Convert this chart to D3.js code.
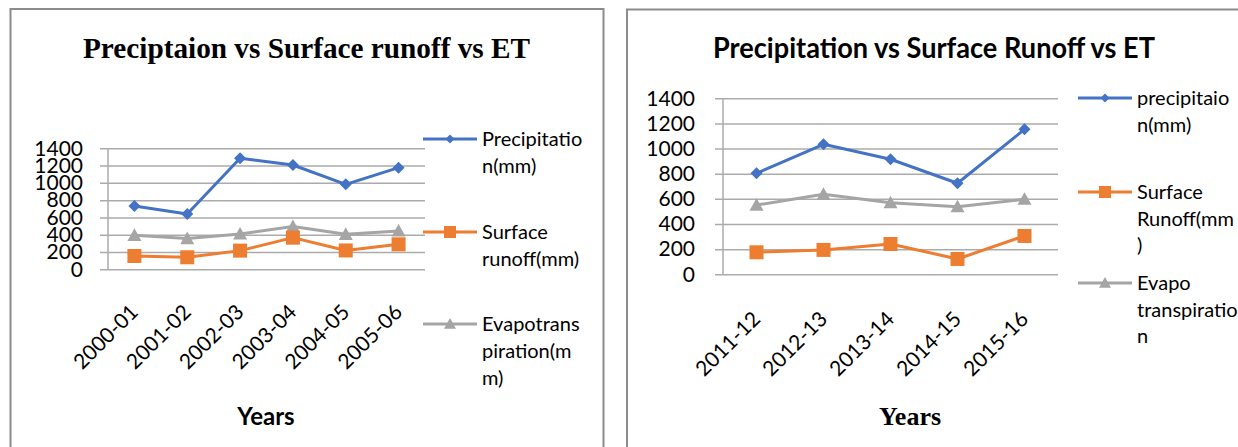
<!DOCTYPE html>
<html>
<head>
<meta charset="utf-8">
<script src="https://cdn.jsdelivr.net/npm/d3@7"></script>
<style>
  html, body { margin: 0; padding: 0; background: #fff; }
  svg { display: block; }
</style>
</head>
<body>
<svg id="chart" width="1238" height="447"></svg>
<script>
// ---------- DATA ----------
const yTicks = [0, 200, 400, 600, 800, 1000, 1200, 1400];

const leftCategories = ["2000-01", "2001-02", "2002-03", "2003-04", "2004-05", "2005-06"];
const leftPrecipitation = [733, 640, 1284, 1207, 983, 1176];
const leftSurfaceRunoff = [154, 139, 216, 366, 218, 289];
const leftEvapotranspiration = [393, 355, 409, 494, 405, 444];
const leftSeriesNames = [["Precipitatio", "n(mm)"], ["Surface", "runoff(mm)"], ["Evapotrans", "piration(m", "m)"]];
const leftTitle = "Preciptaion vs Surface runoff vs ET";

const rightCategories = ["2011-12", "2012-13", "2013-14", "2014-15", "2015-16"];
const rightPrecipitation = [803, 1034, 915, 724, 1153];
const rightSurfaceRunoff = [175, 194, 241, 122, 305];
const rightEvapotranspiration = [551, 636, 570, 538, 597];
const rightSeriesNames = [["precipitaio", "n(mm)"], ["Surface", "Runoff(mm", ")"], ["Evapo", "transpiratio", "n"]];
const rightTitle = "Precipitation vs Surface Runoff vs ET";

const xAxisTitle = "Years";

// ---------- STYLE ----------
const colors = ["#4472C4", "#ED7D31", "#A5A5A5"];
const markers = ["diamond", "square", "triangle"];
const gridColor = "#ABABAB";
const sansFont = "Lato, 'Open Sans', sans-serif";
const serifFont = "'Liberation Serif', 'Times New Roman', serif";

const svg = d3.select("#chart");

function markerPath(type, size) {
  const h = size / 2;
  if (type === "diamond") return `M0,${-h}L${h},0L0,${h}L${-h},0Z`;
  if (type === "square") return `M${-h},${-h}H${h}V${h}H${-h}Z`;
  return `M0,${-h}L${h},${h * 0.8}L${-h},${h * 0.8}Z`;
}

function drawChart(cfg) {
  const g = svg.append("g");

  // panel border
  g.append("path")
    .attr("d", `M${cfg.panel[0]},447V${cfg.panel[1]}H${cfg.panel[2]}V447`)
    .attr("fill", "none").attr("stroke", "#8C8C8C").attr("stroke-width", 2);

  // title
  g.append("text")
    .attr("x", cfg.title.x).attr("y", cfg.title.y)
    .attr("text-anchor", "middle")
    .attr("font-family", cfg.title.font).attr("font-weight", "bold")
    .attr("font-size", cfg.title.size)
    .attr("textLength", cfg.title.len).attr("lengthAdjust", "spacingAndGlyphs")
    .text(cfg.title.text);

  const x = d3.scaleBand().domain(cfg.categories).range([cfg.left, cfg.right]).padding(0);
  const y = d3.scaleLinear().domain([0, 1400]).range([cfg.bottom, cfg.top]);
  const cx = d => x(d) + x.bandwidth() / 2;

  // gridlines + y labels
  const yAxis = d3.axisLeft(y).tickValues(yTicks)
    .tickSize(-(cfg.right - cfg.left + 8)).tickPadding(cfg.yPad).tickFormat(d3.format("d"));
  const ya = g.append("g").attr("transform", `translate(${cfg.left - 8},0)`).call(yAxis);
  ya.select(".domain").remove();
  ya.selectAll(".tick line").attr("stroke", gridColor).attr("stroke-width", 1.5);
  ya.selectAll(".tick text")
    .attr("font-family", sansFont).attr("font-size", cfg.yFont).attr("fill", "#000");

  // vertical axis line
  g.append("line")
    .attr("x1", cfg.left).attr("x2", cfg.left)
    .attr("y1", y(1400)).attr("y2", y(0))
    .attr("stroke", gridColor).attr("stroke-width", 1.5);

  // x labels (rotated)
  g.append("g").selectAll("text").data(cfg.categories).join("text")
    .attr("transform", d => `translate(${cx(d) + cfg.xLab.dx},${cfg.bottom + cfg.xLab.dy}) rotate(-45)`)
    .attr("text-anchor", "end")
    .attr("font-family", sansFont).attr("font-size", cfg.xLab.size)
    .text(d => d);

  // x axis title
  g.append("text")
    .attr("x", cfg.xTitle.x).attr("y", cfg.xTitle.y)
    .attr("text-anchor", "middle")
    .attr("font-family", cfg.xTitle.font).attr("font-weight", "bold")
    .attr("font-size", cfg.xTitle.size)
    .text(xAxisTitle);

  // series
  const line = d3.line().x(d => cx(d.c)).y(d => y(d.v));
  const order = [2, 1, 0];
  order.forEach(i => {
    const pts = cfg.categories.map((c, j) => ({ c, v: cfg.series[i][j] }));
    g.append("path").datum(pts)
      .attr("d", line).attr("fill", "none")
      .attr("stroke", colors[i]).attr("stroke-width", 3).attr("stroke-linejoin", "round");
    g.append("g").selectAll("path").data(pts).join("path")
      .attr("transform", d => `translate(${cx(d.c)},${y(d.v)})`)
      .attr("d", markerPath(markers[i], [12, 14, 14][i]))
      .attr("fill", colors[i]);
  });

  // legend
  cfg.names.forEach((lines, i) => {
    const ly = cfg.legend.ys[i];
    const lg = g.append("g");
    lg.append("line")
      .attr("x1", cfg.legend.x0).attr("x2", cfg.legend.x0 + 54)
      .attr("y1", ly).attr("y2", ly)
      .attr("stroke", colors[i]).attr("stroke-width", 3);
    lg.append("path")
      .attr("transform", `translate(${cfg.legend.x0 + 27},${ly})`)
      .attr("d", markerPath(markers[i], [9, 12, 12][i]))
      .attr("fill", colors[i]);
    lines.forEach((t, k) => {
      lg.append("text")
        .attr("x", cfg.legend.x0 + 59).attr("y", ly + k * cfg.legend.lh)
        .attr("dy", "0.35em")
        .attr("font-family", sansFont).attr("font-size", cfg.legend.size)
        .text(t);
    });
  });
}

drawChart({
  panel: [10.5, 9, 603.5],
  title: { x: 306.5, y: 57.5, text: leftTitle, font: serifFont, size: 29, len: 447 },
  categories: leftCategories,
  series: [leftPrecipitation, leftSurfaceRunoff, leftEvapotranspiration],
  names: leftSeriesNames,
  left: 108, right: 425, top: 148.3, bottom: 269.3,
  yPad: 17, yFont: 21,
  xLab: { dx: 5, dy: 44, size: 21 },
  xTitle: { x: 266, y: 425, font: sansFont, size: 24 },
  legend: { x0: 423, ys: [139, 232, 324], lh: 27, size: 20 }
});

drawChart({
  panel: [627, 9.5, 1245],
  title: { x: 934, y: 57.5, text: rightTitle, font: sansFont, size: 28, len: 442 },
  categories: rightCategories,
  series: [rightPrecipitation, rightSurfaceRunoff, rightEvapotranspiration],
  names: rightSeriesNames,
  left: 723, right: 1058, top: 98.3, bottom: 274.3,
  yPad: 20, yFont: 21,
  xLab: { dx: 5, dy: 46, size: 21 },
  xTitle: { x: 910, y: 425, font: serifFont, size: 26 },
  legend: { x0: 1078, ys: [98, 192, 283], lh: 26.7, size: 20 }
});
</script>
</body>
</html>
